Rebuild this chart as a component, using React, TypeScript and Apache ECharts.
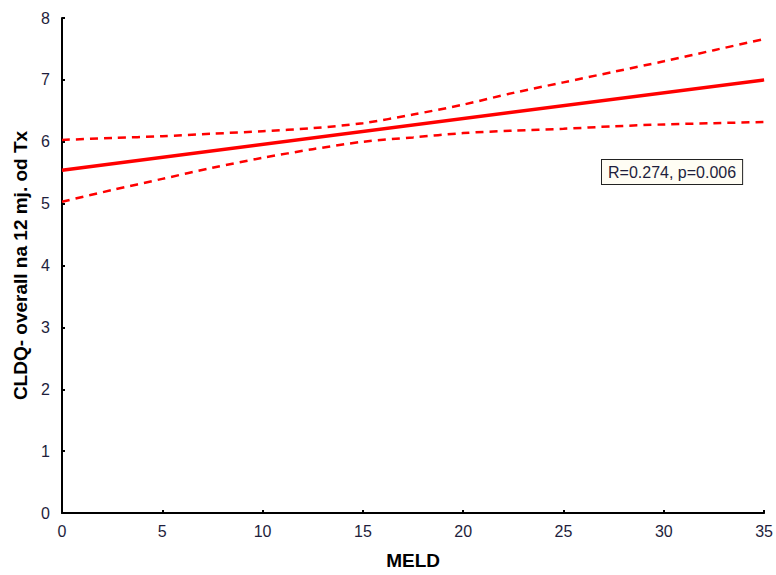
import React, { useEffect, useRef } from "react";
import * as echarts from "echarts";

const xValues = [0, 2.5, 5, 7.5, 10, 12.5, 15, 17.5, 20, 22.5, 25, 27.5, 30, 32.5, 35];
const upperBand = [6.03, 6.06, 6.09, 6.13, 6.17, 6.22, 6.30, 6.44, 6.60, 6.79, 6.96, 7.13, 7.30, 7.48, 7.66];
const lowerBand = [5.03, 5.22, 5.40, 5.58, 5.74, 5.88, 6.00, 6.07, 6.14, 6.18, 6.21, 6.25, 6.28, 6.30, 6.32];
const fitX = [0, 35];
const fitY = [5.54, 7.0];
const xTicks = [0, 5, 10, 15, 20, 25, 30, 35];
const yTicks = [0, 1, 2, 3, 4, 5, 6, 7, 8];
const xTitle = "MELD";
const yTitle = "CLDQ- overall na 12 mj. od Tx";
const statText = "R=0.274, p=0.006";

export default function App() {
  const ref = useRef<HTMLDivElement>(null);
  useEffect(() => {
    if (!ref.current) return;
    const chart = echarts.init(ref.current, null, { renderer: "svg" });
    const labelColor = "#1e1e3c";
    const font = "Arial, 'Liberation Sans', sans-serif";
    chart.setOption({
      animation: false,
      backgroundColor: "#ffffff",
      grid: { left: 62, right: 11, top: 18, bottom: 58 },
      xAxis: {
        type: "value",
        min: xTicks[0],
        max: xTicks[xTicks.length - 1],
        interval: 5,
        name: xTitle,
        nameLocation: "middle",
        nameGap: 38,
        nameTextStyle: { fontSize: 19, fontWeight: "bold", color: "#000", fontFamily: font },
        axisLine: { lineStyle: { color: "#000", width: 2 } },
        axisTick: { inside: true, length: 3, lineStyle: { color: "#000", width: 2 } },
        axisLabel: { color: labelColor, fontSize: 16, fontFamily: font, margin: 10 },
        splitLine: { show: false },
      },
      yAxis: {
        type: "value",
        min: yTicks[0],
        max: yTicks[yTicks.length - 1],
        interval: 1,
        name: yTitle,
        nameLocation: "middle",
        nameGap: 32,
        nameTextStyle: { fontSize: 19, fontWeight: "bold", color: "#000", fontFamily: font },
        axisLine: { lineStyle: { color: "#000", width: 2 } },
        axisTick: { inside: true, length: 3, lineStyle: { color: "#000", width: 2 } },
        axisLabel: { color: labelColor, fontSize: 16, fontFamily: font, margin: 12 },
        splitLine: { show: false },
      },
      series: [
        {
          type: "line",
          data: xValues.map((x, i) => [x, upperBand[i]]),
          showSymbol: false,
          smooth: 0.3,
          lineStyle: { color: "#ff0000", width: 2.5, type: [8, 6] },
        },
        {
          type: "line",
          data: xValues.map((x, i) => [x, lowerBand[i]]),
          showSymbol: false,
          smooth: 0.3,
          lineStyle: { color: "#ff0000", width: 2.5, type: [8, 6] },
        },
        {
          type: "line",
          data: fitX.map((x, i) => [x, fitY[i]]),
          showSymbol: false,
          lineStyle: { color: "#ff0000", width: 3.5 },
        },
      ],
      graphic: [
        {
          type: "text",
          left: 601,
          top: 159,
          style: {
            text: statText,
            fontSize: 16,
            fontFamily: font,
            fill: "#1e1e3c",
            backgroundColor: "#fffdf4",
            borderColor: "#222",
            borderWidth: 1,
            padding: [4, 6, 4, 6],
          },
        },
      ],
    });
    return () => chart.dispose();
  }, []);
  return (
    <div
      ref={ref}
      style={{ position: "fixed", left: 0, top: 0, width: 776, height: 575 }}
    />
  );
}
